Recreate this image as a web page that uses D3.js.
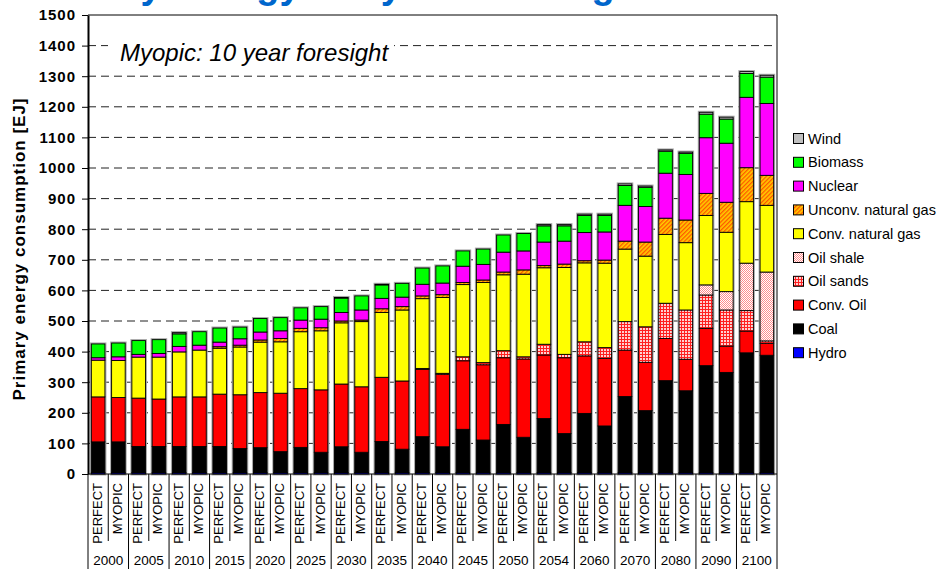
<!DOCTYPE html>
<html>
<head>
<meta charset="utf-8">
<script src="https://cdn.jsdelivr.net/npm/d3@7/dist/d3.min.js"></script>
<style>
  html, body { margin: 0; padding: 0; background: #fff; }
  svg { display: block; font-family: "Liberation Sans", Arial, sans-serif; }
</style>
</head>
<body>
<svg id="chart" width="947" height="569"></svg>
<script>
// Time steps and the two foresight runs shown for each of them
const years = ["2000","2005","2010","2015","2020","2025","2030","2035","2040","2045","2050","2054","2060","2070","2080","2090","2100"];
const runs = ["PERFECT", "MYOPIC"];

// Primary energy by carrier, EJ, one value per bar (year by year, PERFECT then MYOPIC)
const hydro     = [5,5,5,5,5,5,5,5,5,5,5,5,5,5,5,5,5,5,5,5,5,5,5,5,5,5,5,5,5,5,5,5,5,5];
const coal      = [100,100,85,85,85,85,85,78,81,68,82,66,84,66,101,76,117,84,141,106,157,115,176,127,193,152,248,202,300,267,349,327,391,383];
const convOil   = [147,145,158,155,162,162,171,176,180,191,192,204,205,214,210,223,220,237,224,246,218,256,208,248,188,221,152,158,138,103,122,86,71,39];
const oilSands  = [0,0,0,0,0,0,0,0,0,0,0,0,0,0,0,0,3,3,13,7,23,7,35,11,46,35,93,116,115,161,109,118,67,8];
const oilShale  = [0,0,0,0,0,0,0,0,0,0,0,0,0,0,0,0,0,0,0,0,0,0,0,0,0,0,0,0,0,0,33,60,155,225];
const convGas   = [120,121,134,137,147,153,150,156,165,168,186,193,200,213,212,232,228,248,236,262,248,270,250,284,258,276,237,231,225,220,227,194,201,218];
const unconvGas = [0,0,0,0,0,0,5,6,7,11,11,10,6,5,12,11,9,9,7,8,9,14,7,11,7,10,26,46,53,74,72,98,111,98];
const nuclear   = [8,12,9,12,18,16,15,21,26,25,27,28,28,33,34,31,38,38,53,51,65,62,77,75,92,92,117,116,147,149,182,193,230,235];
const biomass   = [45,45,45,45,41,44,46,38,44,43,40,41,47,46,44,45,53,56,50,50,56,57,53,50,56,54,65,63,72,69,77,79,78,86];
const wind      = [0,0,0,0,4,0,0,0,0,0,0,0,2,0,2,0,0,0,0,0,0,0,4,4,4,4,5,4,4,4,6,6,6,6];

const yTicks = [0,100,200,300,400,500,600,700,800,900,1000,1100,1200,1300,1400,1500];

// Series in stacking order, bottom to top
const series = [
  { key: "hydro",     label: "Hydro",               values: hydro,     fill: "#0000FF" },
  { key: "coal",      label: "Coal",                values: coal,      fill: "#000000" },
  { key: "convOil",   label: "Conv. Oil",           values: convOil,   fill: "#FF0000" },
  { key: "oilSands",  label: "Oil sands",           values: oilSands,  fill: "url(#pSands)" },
  { key: "oilShale",  label: "Oil shale",           values: oilShale,  fill: "url(#pShale)" },
  { key: "convGas",   label: "Conv. natural gas",   values: convGas,   fill: "#FFFF00" },
  { key: "unconvGas", label: "Unconv. natural gas", values: unconvGas, fill: "url(#pUnconv)" },
  { key: "nuclear",   label: "Nuclear",             values: nuclear,   fill: "#FF00FF" },
  { key: "biomass",   label: "Biomass",             values: biomass,   fill: "#00FF00" },
  { key: "wind",      label: "Wind",                values: wind,      fill: "#C0C0C0" }
];

// One row per bar
const rows = [];
years.forEach((yr, gi) => runs.forEach((run, ri) => {
  const i = gi * 2 + ri;
  const row = { idx: i, year: yr, run: run };
  series.forEach(s => { row[s.key] = s.values[i]; });
  rows.push(row);
}));

const svg = d3.select("#chart");
const defs = svg.append("defs");

// Oil sands: red grid on white
const pSands = defs.append("pattern").attr("id", "pSands").attr("patternUnits", "userSpaceOnUse")
  .attr("width", 3).attr("height", 3);
pSands.append("rect").attr("width", 3).attr("height", 3).attr("fill", "#FFD0D0");
pSands.append("rect").attr("width", 3).attr("height", 1).attr("fill", "#FF2020");
pSands.append("rect").attr("width", 1).attr("height", 3).attr("fill", "#FF2020");

// Oil shale: light pink checks
const pShale = defs.append("pattern").attr("id", "pShale").attr("patternUnits", "userSpaceOnUse")
  .attr("width", 2).attr("height", 2);
pShale.append("rect").attr("width", 2).attr("height", 2).attr("fill", "#FFFFFF");
pShale.append("rect").attr("width", 1).attr("height", 1).attr("fill", "#FF8C8C");
pShale.append("rect").attr("x", 1).attr("y", 1).attr("width", 1).attr("height", 1).attr("fill", "#FF8C8C");

// Unconventional gas: orange hatching on yellow
const pUnconv = defs.append("pattern").attr("id", "pUnconv").attr("patternUnits", "userSpaceOnUse")
  .attr("width", 3).attr("height", 3).attr("patternTransform", "rotate(45)");
pUnconv.append("rect").attr("width", 3).attr("height", 3).attr("fill", "#FFCC00");
pUnconv.append("rect").attr("width", 1.3).attr("height", 3).attr("fill", "#FF5500");

// Plot frame
const plotLeft = 88, plotRight = 777, plotTop = 15, plotBottom = 474;

const x = d3.scaleBand()
  .domain(rows.map(r => r.idx))
  .range([plotLeft, plotRight])
  .paddingInner(0.33)
  .paddingOuter(0.165);

const y = d3.scaleLinear().domain([0, 1500]).range([plotBottom, plotTop]);

// Slide title, running off the top edge of the page
svg.append("text")
  .attr("x", 20).attr("y", -2)
  .attr("font-size", 38).attr("font-weight", "bold")
  .attr("word-spacing", 4)
  .attr("fill", "#0066CC")
  .text("Primary energy: why the foresight matters");

// Dashed gridlines
svg.append("g").selectAll("line")
  .data(yTicks.filter(v => v > 0 && v < 1500))
  .join("line")
  .attr("x1", plotLeft).attr("x2", plotRight)
  .attr("y1", d => y(d)).attr("y2", d => y(d))
  .attr("stroke", "#222").attr("stroke-width", 1)
  .attr("stroke-dasharray", "8,5");

// Scenario note with its white box over the gridline
svg.append("rect").attr("x", 108).attr("y", 36).attr("width", 286).attr("height", 30).attr("fill", "#fff");
svg.append("text")
  .attr("x", 120).attr("y", 61)
  .attr("font-size", 24).attr("font-style", "italic")
  .attr("fill", "#000")
  .text("Myopic: 10 year foresight");

// Stacked bars
const stack = d3.stack().keys(series.map(s => s.key));
const layers = stack(rows);

const barG = svg.append("g");
// soft grey halo around each full bar
barG.selectAll("rect.halo")
  .data(rows)
  .join("rect")
  .attr("class", "halo")
  .attr("x", d => x(d.idx))
  .attr("width", x.bandwidth())
  .attr("y", d => y(d3.sum(series, s => d[s.key])))
  .attr("height", d => y(0) - y(d3.sum(series, s => d[s.key])))
  .attr("fill", "none")
  .attr("stroke", "#A8A8A8")
  .attr("stroke-width", 3);

layers.forEach((layer, li) => {
  barG.append("g")
    .selectAll("rect")
    .data(layer.filter(d => d[1] - d[0] > 0))
    .join("rect")
    .attr("x", d => x(d.data.idx))
    .attr("width", x.bandwidth())
    .attr("y", d => y(d[1]))
    .attr("height", d => y(d[0]) - y(d[1]))
    .attr("fill", series[li].fill)
    .attr("stroke", "#000")
    .attr("stroke-width", 0.9);
});

// Frame: top and right borders
svg.append("line").attr("x1", plotLeft).attr("x2", plotRight).attr("y1", plotTop).attr("y2", plotTop)
  .attr("stroke", "#000").attr("stroke-width", 1);
svg.append("line").attr("x1", plotRight).attr("x2", plotRight).attr("y1", plotTop).attr("y2", plotBottom)
  .attr("stroke", "#000").attr("stroke-width", 1);

// Y axis
const yAxis = d3.axisLeft(y).tickValues(yTicks).tickFormat(d3.format("d"))
  .tickSize(6).tickSizeOuter(0).tickPadding(6);
const yg = svg.append("g").attr("transform", `translate(${plotLeft},0)`).call(yAxis);
yg.select(".domain").attr("stroke", "#000").attr("stroke-width", 2);
yg.selectAll(".tick line").attr("stroke", "#000");
yg.selectAll(".tick text")
  .attr("font-family", "'Liberation Sans', Arial, sans-serif")
  .attr("font-size", 15).attr("font-weight", "bold")
  .attr("letter-spacing", 1)
  .attr("fill", "#000");

svg.append("text")
  .attr("transform", "translate(25,249) rotate(-90)")
  .attr("text-anchor", "middle")
  .attr("font-size", 17).attr("font-weight", "bold")
  .attr("letter-spacing", 1)
  .text("Primary energy consumption [EJ]");

// Category axis: baseline, separators, run and year labels
svg.append("line").attr("x1", plotLeft).attr("x2", plotRight).attr("y1", plotBottom).attr("y2", plotBottom)
  .attr("stroke", "#000").attr("stroke-width", 1);

const step = x.step();
const seps = d3.range(rows.length + 1);
svg.append("g").selectAll("line")
  .data(seps)
  .join("line")
  .attr("x1", i => plotLeft + i * step).attr("x2", i => plotLeft + i * step)
  .attr("y1", plotBottom)
  .attr("y2", i => (i % 2 === 0) ? 569 : 541)
  .attr("stroke", "#000").attr("stroke-width", 1);

svg.append("g").selectAll("text")
  .data(rows)
  .join("text")
  .attr("transform", d => `translate(${x(d.idx) + x.bandwidth() / 2 + 3.5},483) rotate(-90)`)
  .attr("text-anchor", "end")
  .attr("font-size", 13)
  .text(d => d.run);

svg.append("g").selectAll("text")
  .data(years)
  .join("text")
  .attr("x", (d, gi) => plotLeft + (gi * 2 + 1) * step)
  .attr("y", 565)
  .attr("text-anchor", "middle")
  .attr("font-size", 13.5)
  .text(d => d);

// Legend, top entry first
const legend = svg.append("g");
const legendItems = series.slice().reverse();
legendItems.forEach((s, i) => {
  const cy = 138.5 + i * 23.8;
  legend.append("rect")
    .attr("x", 793.5).attr("y", cy - 5).attr("width", 10).attr("height", 10)
    .attr("fill", s.fill).attr("stroke", "#000").attr("stroke-width", 1);
  legend.append("text")
    .attr("x", 808).attr("y", cy + 5)
    .attr("font-size", 14.5)
    .text(s.label);
});
</script>
</body>
</html>
